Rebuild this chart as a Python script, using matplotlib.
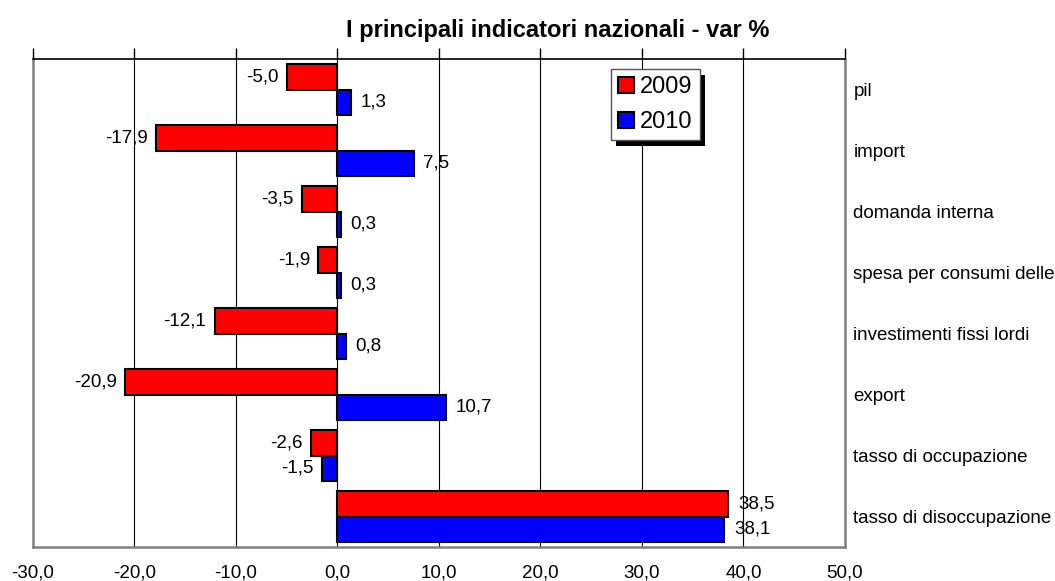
import matplotlib
matplotlib.use("Agg")
import matplotlib.pyplot as plt
from matplotlib.patches import Rectangle
from matplotlib.transforms import IdentityTransform
from matplotlib.ticker import FuncFormatter
import numpy as np

#Chart data
categories = ['pil', 'import', 'domanda interna', 'spesa per consumi delle famiglie',
              'investimenti fissi lordi', 'export', 'tasso di occupazione',
              'tasso di disoccupazione']
var_2009 = [-5.0, -17.9, -3.5, -1.9, -12.1, -20.9, -2.6, 38.5]
var_2010 = [1.3, 7.5, 0.3, 0.3, 0.8, 10.7, -1.5, 38.1]
series_names = ['2009', '2010']
x_ticks = [-30, -20, -10, 0, 10, 20, 30, 40, 50]


def fmt_it(v, pos=None):
    #Italian decimal comma
    return f"{v:.1f}".replace('.', ',')


plt.rcParams['font.family'] = ['Liberation Sans', 'DejaVu Sans']

fig = plt.figure(figsize=(10.55, 5.81), dpi=100)
ax = fig.add_axes([33 / 1055, 1 - 547 / 581, (845 - 33) / 1055, (547 - 59) / 581])

y = np.arange(len(categories))
h = 0.41
bars_a = ax.barh(y - h / 2, var_2009, height=h, color='#ff0000', edgecolor='black',
                 linewidth=1.5, label=series_names[0], zorder=3)
bars_b = ax.barh(y + h / 2, var_2010, height=h, color='#0000ff', edgecolor='black',
                 linewidth=1.5, label=series_names[1], zorder=3)

#Value labels next to bar ends
for bars, vals in ((bars_a, var_2009), (bars_b, var_2010)):
    for b, v in zip(bars, vals):
        yc = b.get_y() + b.get_height() / 2
        off = 7 if v >= 0 else -6
        ax.annotate(fmt_it(v), (v, yc), xytext=(off, 0), textcoords='offset points',
                    ha='left' if v >= 0 else 'right', va='center', fontsize=13.5)

ax.set_xlim(-30, 50)
ax.set_ylim(len(categories) - 0.5, -0.5)
ax.set_xticks(x_ticks)
ax.xaxis.set_major_formatter(FuncFormatter(fmt_it))
#tick marks only on top, labels at the bottom (pad counts the tick length too)
ax.tick_params(axis='x', top=True, bottom=False, labeltop=False, labelbottom=True,
               direction='out', length=8, width=1, labelsize=13.5, pad=4.5)
ax.grid(axis='x', color='black', linewidth=0.8, zorder=0)

ax.yaxis.tick_right()
ax.set_yticks(y)
ax.set_yticklabels(categories)
ax.tick_params(axis='y', length=0, pad=6, labelsize=13.5)

ax.spines['top'].set_color('black')
ax.spines['top'].set_linewidth(1.2)
for s in ('left', 'right', 'bottom'):
    ax.spines[s].set_color('#808080')
    ax.spines[s].set_linewidth(1.8)

fig.text(558 / 1055, 1 - 30 / 581, 'I principali indicatori nazionali - var %',
         ha='center', va='center', fontsize=17, fontweight='bold')

leg = ax.legend(loc='upper left', bbox_to_anchor=(611 / 1055, 1 - 69 / 581),
                bbox_transform=fig.transFigure, fontsize=17, fancybox=False,
                handlelength=0.68, handleheight=0.68, handletextpad=0.25,
                borderpad=0.3, labelspacing=0.55, borderaxespad=0, framealpha=1)
leg.get_frame().set_edgecolor('#555555')
leg.get_frame().set_linewidth(1.0)
leg.set_zorder(10)

#Black drop shadow behind the legend box
fig.canvas.draw()
bb = leg.get_frame().get_window_extent()
shadow = Rectangle((bb.x0 + 5, bb.y0 - 6), bb.width, bb.height, transform=IdentityTransform(),
                   facecolor='black', edgecolor='none', zorder=9)
ax.add_artist(shadow)

fig.savefig('out.png', dpi=100)
